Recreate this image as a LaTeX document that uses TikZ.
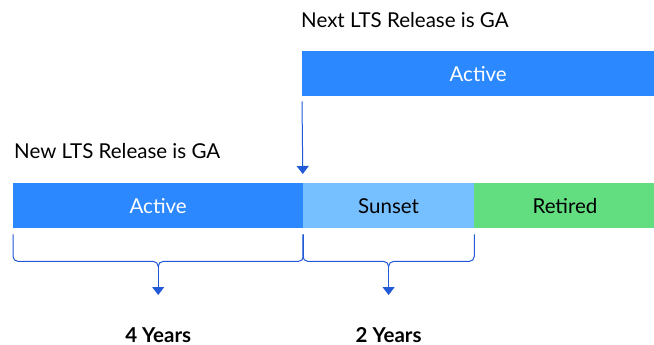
\documentclass[tikz,border=0pt]{standalone}
\usepackage{fontspec}
\setmainfont{Lato}
\usetikzlibrary{arrows.meta,positioning}
\definecolor{activeblue}{HTML}{2B88FF}
\definecolor{sunsetblue}{HTML}{77C0FF}
\definecolor{retiredgreen}{HTML}{62DE80}
\definecolor{linkblue}{HTML}{2159D6}
\tikzset{
	phase/.style={minimum height=45, inner sep=0, anchor=north west, font=\fontsize{20.5}{24}\selectfont},
	caption/.style={inner sep=0, anchor=base west, font=\fontsize{20.5}{24}\selectfont},
	years/.style={inner sep=0, anchor=base, font=\fontsize{20.5}{24}\selectfont\bfseries},
	brace/.style={draw=linkblue, line width=1, rounded corners=5},
	down/.style={draw=linkblue, line width=1, -{Triangle[width=12,length=8]}},
}

\begin{document}
\begin{tikzpicture}[x=1pt,y=-1pt]
			%%%%% START %%%%%
			\useasboundingbox (0,0) rectangle (654,345);
			
			% next release
			\node[caption] (nextga) at (301,28) {Next LTS Release is GA};
			\node[phase, fill=activeblue, text=white, minimum width=352] (next) at (302,51) {Active};
			
			% new release
			\node[caption] (newga) at (14,158) {New LTS Release is GA};
			\node[phase, fill=activeblue, text=white, minimum width=290] (active) at (13,183) {Active};
			\node[phase, fill=sunsetblue, minimum width=171, right=-0.5 of active] (sunset) {Sunset};
			\node[phase, fill=retiredgreen, minimum width=182, right=-0.5 of sunset] (retired) {Retired};
			
			\draw[down, shorten >=9] ([yshift=-5pt]next.south west) -- (sunset.north west);
			
			% braces
			\coordinate (fourtip) at ([yshift=-38pt]active.south);
			\coordinate (twotip) at ([yshift=-38pt]sunset.south);
			\draw[brace] ([yshift=-6pt]active.south west) |- ([yshift=5pt]fourtip) -- (fourtip);
			\draw[brace] ([yshift=-6pt]active.south east) |- ([yshift=5pt]fourtip) -- (fourtip);
			\draw[brace] ([yshift=-6pt]sunset.south west) |- ([yshift=5pt]twotip) -- (twotip);
			\draw[brace] ([yshift=-6pt]sunset.south east) |- ([yshift=5pt]twotip) -- (twotip);
			
			\node[years] (four) at (fourtip |- 0,342) {4 Years};
			\node[years] (two) at (twotip |- 0,342) {2 Years};
			\draw[down] (fourtip) -- (fourtip |- 0,295);
			\draw[down] (twotip) -- (twotip |- 0,295);
			
			%%%%% END %%%%%
\end{tikzpicture}
\end{document}
